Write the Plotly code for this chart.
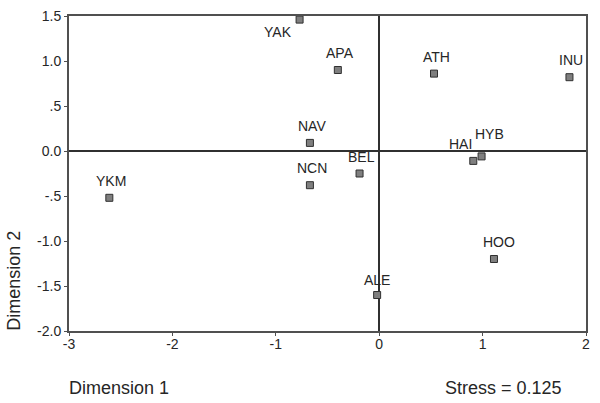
import plotly.graph_objects as go

labels = ["YAK", "APA", "NAV", "NCN", "BEL", "ATH", "INU", "HAI", "HYB", "YKM", "ALE", "HOO"]
dim1 = [-0.77, -0.40, -0.67, -0.67, -0.19, 0.53, 1.84, 0.91, 0.99, -2.61, -0.02, 1.11]
dim2 = [1.46, 0.90, 0.09, -0.38, -0.25, 0.86, 0.82, -0.11, -0.06, -0.52, -1.60, -1.20]

x_ticks = [-3, -2, -1, 0, 1, 2]
x_tick_text = ["-3", "-2", "-1", "0", "1", "2"]
y_ticks = [1.5, 1.0, 0.5, 0.0, -0.5, -1.0, -1.5, -2.0]
y_tick_text = ["1.5", "1.0", ".5", "0.0", "-.5", "-1.0", "-1.5", "-2.0"]

stress_text = "Stress = 0.125"

# label offsets in pixels (styling only)
label_shift = {"YAK": (-22, -12), "HAI": (-13, 17), "HYB": (8, 22), "HOO": (5, 17), "ALE": (0, 15)}

FONT = "Liberation Sans, Arial, sans-serif"
AX = "#505050"
TXT = "#262626"

fig = go.Figure()
fig.add_trace(go.Scatter(
    x=dim1, y=dim2, mode="markers",
    marker=dict(symbol="square", size=7, color="#7f7f7f",
                line=dict(color="#303030", width=1)),
    hoverinfo="text", text=labels, showlegend=False,
))

for lab, xv, yv in zip(labels, dim1, dim2):
    dx, dy = label_shift.get(lab, (2, 17))
    fig.add_annotation(x=xv, y=yv, text=lab, showarrow=False,
                       xshift=dx, yshift=dy,
                       font=dict(family=FONT, size=14, color=TXT))

fig.add_annotation(xref="paper", yref="paper", x=-0.004, y=-0.181, text="Dimension 1",
                   showarrow=False, xanchor="left", yanchor="middle",
                   font=dict(family=FONT, size=18, color=TXT))
fig.add_annotation(xref="paper", yref="paper", x=0.958, y=-0.181, text=stress_text,
                   showarrow=False, xanchor="right", yanchor="middle",
                   font=dict(family=FONT, size=18, color=TXT))
fig.add_annotation(xref="paper", yref="paper", x=-0.108, y=0.16, text="Dimension 2",
                   showarrow=False, textangle=-90, xanchor="center", yanchor="middle",
                   font=dict(family=FONT, size=18, color=TXT))

common = dict(showgrid=False, zeroline=True, zerolinecolor="#303030", zerolinewidth=1.5,
              showline=True, linecolor=AX, linewidth=2, mirror=True,
              ticks="outside", ticklen=3, tickcolor=AX, automargin=False,
              tickfont=dict(family=FONT, size=14, color=TXT))

fig.update_layout(
    template="none",
    width=600, height=403,
    margin=dict(l=69, r=14, t=16, b=72, autoexpand=False),
    paper_bgcolor="white", plot_bgcolor="white",
    xaxis=dict(range=[-3, 2], tickvals=x_ticks, ticktext=x_tick_text, **common),
    yaxis=dict(range=[-2.0, 1.5], tickvals=y_ticks, ticktext=y_tick_text, **common),
)
fig.update_xaxes(ticklabelstandoff=-4)

fig.write_html("out.html", config={"displayModeBar": False},
               post_script="document.body.style.margin='0';document.body.style.overflow='hidden';")
